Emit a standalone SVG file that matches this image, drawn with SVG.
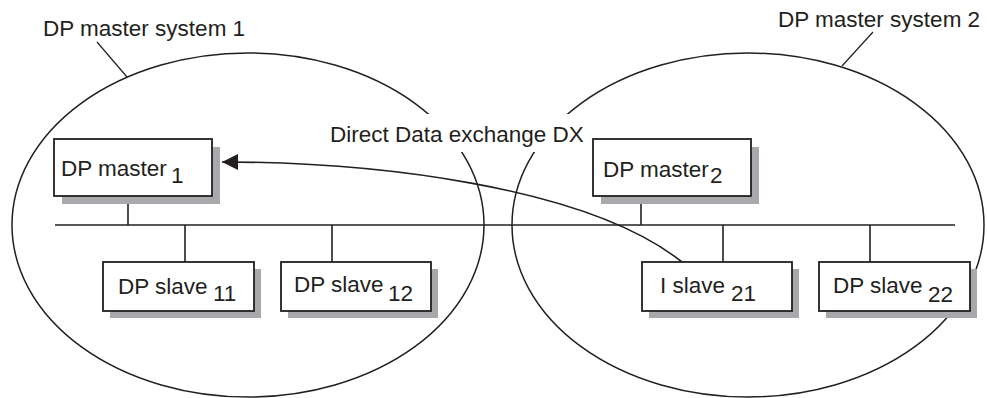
<svg xmlns="http://www.w3.org/2000/svg" width="987" height="398" viewBox="0 0 987 398">
<style>
  text { font-family: "Liberation Sans", Arial, sans-serif; font-size: 22.5px; fill: #231f20; }
  .sys { fill: none; stroke: #231f20; stroke-width: 1.5; }
  .box { fill: #ffffff; stroke: #231f20; stroke-width: 1.8; }
  .shadow { fill: #a7a9ac; stroke: none; }
  .line { fill: none; stroke: #231f20; stroke-width: 1.6; }
  .lead { fill: none; stroke: #231f20; stroke-width: 1.2; }
</style>
<defs>
  <marker id="arrow" markerUnits="userSpaceOnUse" markerWidth="17" markerHeight="17" refX="16" refY="8.5" orient="auto">
    <path d="M0,0.5 L16,8.5 L0,16.5 Z" fill="#231f20"/>
  </marker>
</defs>
<rect width="987" height="398" fill="#ffffff"/>

<g id="system1">
  <ellipse class="sys" cx="248" cy="225" rx="236" ry="172"/>
  <line class="lead" x1="97" y1="42" x2="127" y2="77"/>
  <text x="43" y="36">DP master system 1</text>
</g>
<g id="system2">
  <ellipse class="sys" cx="748" cy="225" rx="236" ry="172"/>
  <line class="lead" x1="873" y1="32" x2="842" y2="66"/>
  <text x="778" y="27">DP master system 2</text>
</g>

<g id="dx-label">
  <rect x="426" y="114" width="146" height="38" fill="#ffffff"/>
  <text x="330" y="142">Direct Data exchange DX</text>
</g>

<g id="connectors">
  <line class="line" x1="55" y1="225" x2="955" y2="225"/>
  <line class="line" x1="128" y1="196" x2="128" y2="225"/>
  <line class="line" x1="641" y1="196" x2="641" y2="225"/>
  <line class="line" x1="185" y1="225" x2="185" y2="262"/>
  <line class="line" x1="332" y1="225" x2="332" y2="262"/>
  <line class="line" x1="723" y1="225" x2="723" y2="262"/>
  <line class="line" x1="870" y1="225" x2="870" y2="262"/>
  <path class="line" d="M682,262 C585,185 370,162 222,162" marker-end="url(#arrow)"/>
</g>

<g id="dp-master-1">
  <rect class="shadow" x="62" y="147" width="158" height="57"/>
  <rect class="box" x="54" y="139" width="158" height="57"/>
  <text x="61" y="176">DP master<tspan x="171" y="183">1</tspan></text>
</g>
<g id="dp-master-2">
  <rect class="shadow" x="601" y="147" width="158" height="57"/>
  <rect class="box" x="593" y="139" width="158" height="57"/>
  <text x="603" y="177">DP master<tspan x="710" y="183">2</tspan></text>
</g>
<g id="dp-slave-11">
  <rect class="shadow" x="110" y="269" width="151" height="49"/>
  <rect class="box" x="103" y="262" width="151" height="49"/>
  <text x="118" y="294">DP slave<tspan x="213" y="301">11</tspan></text>
</g>
<g id="dp-slave-12">
  <rect class="shadow" x="288" y="269" width="150" height="49"/>
  <rect class="box" x="281" y="262" width="150" height="49"/>
  <text x="294" y="292">DP slave<tspan x="388" y="301">12</tspan></text>
</g>
<g id="i-slave-21">
  <rect class="shadow" x="649" y="269" width="150" height="49"/>
  <rect class="box" x="642" y="262" width="150" height="49"/>
  <text x="660" y="293">I slave<tspan x="731" y="301">21</tspan></text>
</g>
<g id="dp-slave-22">
  <rect class="shadow" x="826" y="269" width="151" height="49"/>
  <rect class="box" x="819" y="262" width="151" height="49"/>
  <text x="833" y="293">DP slave<tspan x="928" y="302">22</tspan></text>
</g>
</svg>
